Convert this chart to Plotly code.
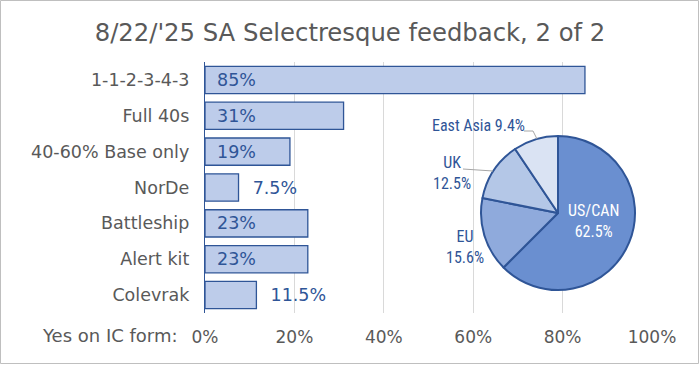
import plotly.graph_objects as go

categories = ["1-1-2-3-4-3", "Full 40s", "40-60% Base only", "NorDe", "Battleship", "Alert kit", "Colevrak"]
values = [85, 31, 19, 7.5, 23, 23, 11.5]
x_ticks = [0, 20, 40, 60, 80, 100]

regions = ["US/CAN", "EU", "UK", "East Asia"]
region_share = [62.5, 15.6, 12.5, 9.4]

BLUE = "#2F5597"
GRAY = "#595959"
FONT = "DejaVu Sans"
NARROW = "Liberation Sans Narrow, Roboto Condensed, Roboto"

labels = [f"{v:g}%" for v in values]
positions = ["inside" if v >= 15 else "outside" for v in values]
texts = ["\u00a0\u2009" + t if p == "inside" else "\u00a0\u00a0" + t for t, p in zip(labels, positions)]

fig = go.Figure()
fig.add_trace(go.Bar(
    x=values, y=categories, orientation="h",
    marker=dict(color="#BDCCEA", line=dict(color=BLUE, width=1.3)),
    width=0.76,
    text=texts, textposition=positions, insidetextanchor="start",
    textfont=dict(family=FONT, size=17.5, color=BLUE),
    cliponaxis=False, hoverinfo="skip",
))

pie_colors = ["#6A8FD0", "#8FAADC", "#B4C7E7", "#DAE3F3"]
fig.add_trace(go.Pie(
    labels=regions, values=region_share, sort=False, direction="clockwise", rotation=0,
    marker=dict(colors=pie_colors, line=dict(color=BLUE, width=2)),
    textinfo="none", hoverinfo="skip", showlegend=False,
    domain=dict(x=[481/700, 635/700], y=[1-290/366, 1-136/366]),
))

W, H = 700, 366
ann = []
def lab(x, y, text, color):
    return dict(x=x/W, y=1-y/H, xref="paper", yref="paper", xanchor="center", yanchor="middle",
                text=text, showarrow=False, font=dict(family=NARROW, size=16, color=color), align="center")
ann.append(lab(593, 221, f"{regions[0]}<br>{region_share[0]:g}%", "white"))
ann.append(lab(465, 247, f"{regions[1]}<br>{region_share[1]:g}%", BLUE))
ann.append(lab(452, 173, f"{regions[2]}<br>{region_share[2]:g}%", BLUE))
ann.append(lab(478, 125, f"{regions[3]} {region_share[3]:g}%", BLUE))
ann.append(dict(x=180/W, y=1-335/H, xref="paper", yref="paper", xanchor="right", yanchor="middle",
                text="Yes on IC form:", showarrow=False,
                font=dict(family=FONT, size=18, color=GRAY)))

shapes = [
    dict(type="rect", xref="paper", yref="paper", x0=0.5/W, x1=1-1.5/W, y0=2.5/H, y1=1-0.5/H,
         line=dict(color="#BFBFBF", width=1)),
    dict(type="path", xref="paper", yref="paper",
         path=f"M {524/W},{1-131/H} L {533/W},{1-131/H} L {537/W},{1-139/H}",
         line=dict(color="#A6A6A6", width=1)),
    dict(type="path", xref="paper", yref="paper",
         path=f"M {463/W},{1-169/H} L {493/W},{1-171/H}",
         line=dict(color="#A6A6A6", width=1)),
]

fig.update_layout(
    width=W, height=H, autosize=False, margin=dict(l=0, r=0, t=0, b=0, pad=0, autoexpand=False),
    paper_bgcolor="white", plot_bgcolor="white",
    showlegend=False,
    title=dict(text="8/22/'25 SA Selectresque feedback, 2 of 2", x=0.5, xanchor="center",
               y=1-32/H, yanchor="middle", automargin=False,
               font=dict(family=FONT, size=24.3, color=GRAY)),
    xaxis=dict(domain=[205/W, 652/W], range=[0, 100], tickvals=x_ticks, automargin=False,
               ticktext=[f"{t}%" for t in x_ticks], showgrid=True, gridcolor="#D9D9D9",
               gridwidth=1, zeroline=False, showline=False, ticks="",
               ticklabelstandoff=12, tickfont=dict(family=FONT, size=17, color=GRAY), fixedrange=True),
    yaxis=dict(domain=[1-313/H, 1-62/H], autorange="reversed", showline=True, linecolor=BLUE,
               linewidth=1.3, ticks="", ticklabelstandoff=11, automargin=False,
               tickfont=dict(family=FONT, size=17.5, color=GRAY), showgrid=False, fixedrange=True),
    annotations=ann, shapes=shapes, bargap=0.24,
)

fig.write_html("out.html", config={"displayModeBar": False, "responsive": False},
               post_script="document.body.style.margin='0';document.body.style.overflow='hidden';")
